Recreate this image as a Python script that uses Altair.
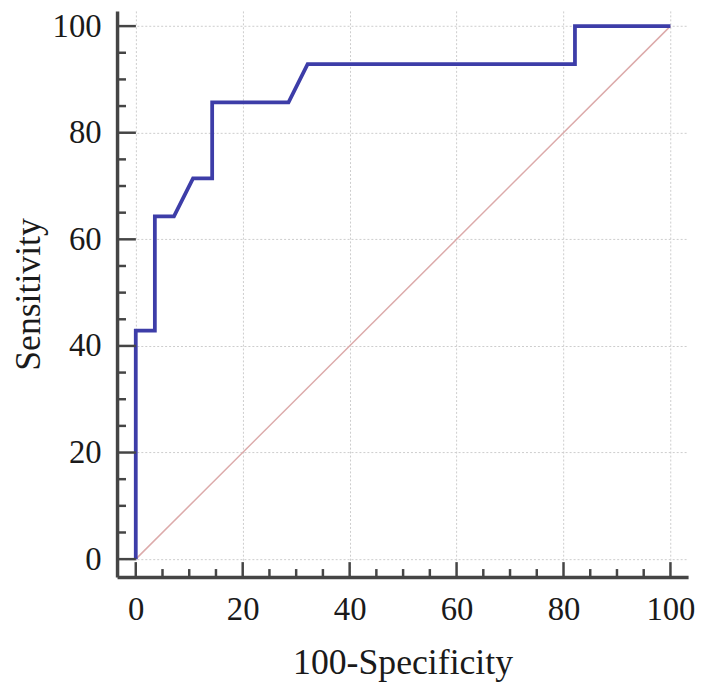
import altair as alt
import pandas as pd

# ROC curve (100-Specificity, Sensitivity)
fpr = [0, 0, 3.57, 3.57, 7.14, 10.71, 14.29, 14.29, 28.57, 32.14, 82.14, 82.14, 100]
tpr = [0, 42.86, 42.86, 64.29, 64.29, 71.43, 71.43, 85.71, 85.71, 92.86, 92.86, 100, 100]
diag_x = [0, 100]
diag_y = [0, 100]
major_ticks = [0, 20, 40, 60, 80, 100]
minor_ticks = [5, 10, 15, 25, 30, 35, 45, 50, 55, 65, 70, 75, 85, 90, 95]

X_DOMAIN = [-3.5, 103.3]
Y_DOMAIN = [-3.35, 102.85]
W, H = 576, 571
FONT = "Liberation Serif"
AXIS_COLOR = "#454545"

roc = pd.DataFrame({"x": fpr, "y": tpr, "order": list(range(len(fpr)))})
diag = pd.DataFrame({"x": diag_x, "y": diag_y})
maj = pd.DataFrame({"x": major_ticks, "y": major_ticks})
mnr = pd.DataFrame({"x": minor_ticks, "y": minor_ticks})

xs = alt.Scale(domain=X_DOMAIN, nice=False, zero=False)
ys = alt.Scale(domain=Y_DOMAIN, nice=False, zero=False)

common_axis = dict(
    values=major_ticks, grid=True, gridColor="#cccccc", gridDash=[2, 2], gridWidth=1,
    ticks=False, domainColor=AXIS_COLOR, domainWidth=3.5,
    labelFont=FONT, labelFontSize=33, labelColor="#1a1a1a",
    titleFont=FONT, titleFontSize=36, titleFontWeight="normal", titleColor="#1a1a1a",
)
x_axis = alt.Axis(title="100-Specificity", labelPadding=17, titlePadding=19, **common_axis)
y_axis = alt.Axis(title="Sensitivity", labelPadding=16, titlePadding=5, **common_axis)

X = alt.X("x:Q", scale=xs, axis=x_axis)
Y = alt.Y("y:Q", scale=ys, axis=y_axis)

roc_line = alt.Chart(roc).mark_line(color="#3d3da8", strokeWidth=3.8).encode(
    x=X, y=Y, order="order:Q",
)

diag_line = alt.Chart(diag).mark_line(color="#dcaaaa", strokeWidth=1.5).encode(x=X, y=Y)

def xticks(df, length, width):
    return alt.Chart(df).mark_rule(color=AXIS_COLOR, strokeWidth=width).encode(
        x=X,
        y=alt.value(H),
        y2=alt.value(H - length),
    )

def yticks(df, length, width):
    return alt.Chart(df).mark_rule(color=AXIS_COLOR, strokeWidth=width).encode(
        y=Y,
        x=alt.value(0),
        x2=alt.value(length),
    )

chart = alt.layer(
    diag_line,
    roc_line,
    xticks(maj, 15, 2.5),
    xticks(mnr, 8, 2.5),
    yticks(maj, 19, 2.5),
    yticks(mnr, 9, 2.5),
).properties(
    width=W,
    height=H,
    autosize=alt.AutoSizeParams(type="none"),
    padding={"left": 110, "top": 0, "right": 10, "bottom": 106},
).configure(background="white").configure_view(stroke=None)

chart.save("out.html", embed_options={"renderer": "svg", "actions": False})
